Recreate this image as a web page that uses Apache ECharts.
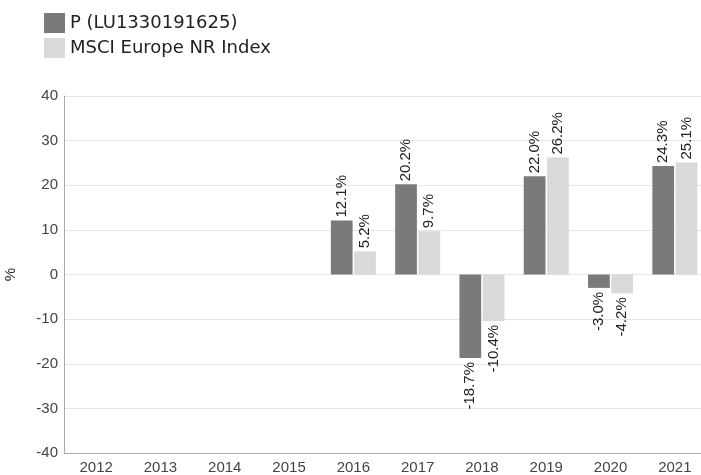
<!DOCTYPE html>
<html><head><meta charset="utf-8">
<script src="https://cdn.jsdelivr.net/npm/echarts@6/dist/echarts.min.js"></script>
<style>html,body{margin:0;padding:0;background:#fff}#c{width:701px;height:475px}</style>
</head><body><div id="c"></div>
<script>
const years = ['2012','2013','2014','2015','2016','2017','2018','2019','2020','2021'];
const fundValues = [null,null,null,null,12.1,20.2,-18.7,22.0,-3.0,24.3];
const indexValues = [null,null,null,null,5.2,9.7,-10.4,26.2,-4.2,25.1];
const seriesNames = ['P (LU1330191625)','MSCI Europe NR Index'];
const yTicks = {min:-40,max:40,interval:10};

function mk(vals){
  return vals.map(v => v === null ? null : {
    value: v,
    label: v >= 0 ? {position:'top', align:'left', verticalAlign:'middle', rotate:90, distance:3}
                  : {position:'bottom', align:'right', verticalAlign:'middle', rotate:90, distance:4}
  });
}
const labelBase = {show:true, fontFamily:'Liberation Sans, Arial, sans-serif', fontSize:15, color:'#222',
  formatter: p => p.value.toFixed(1) + '%'};

const chart = echarts.init(document.getElementById('c'), null, {renderer:'canvas'});
chart.setOption({
  animation:false,
  legend:{orient:'vertical', left:39, top:8, itemWidth:21, itemHeight:20, itemGap:5,
    icon:'rect', textStyle:{fontFamily:'DejaVu Sans', fontSize:18, color:'#222'},
    data:seriesNames},
  grid:{left:64, top:96, width:643, height:357, containLabel:false, outerBoundsMode:'none'},
  xAxis:{type:'category', data:years,
    axisLine:{onZero:false, lineStyle:{color:'#aaa'}}, axisTick:{show:false},
    axisLabel:{fontFamily:'Liberation Sans, Arial, sans-serif', fontSize:15, color:'#444', margin:7}},
  yAxis:{type:'value', min:yTicks.min, max:yTicks.max, interval:yTicks.interval,
    name:'%', nameLocation:'middle', nameGap:46, nameRotate:90,
    nameTextStyle:{fontFamily:'Liberation Sans, Arial, sans-serif', fontSize:15, color:'#222'},
    axisLine:{show:true, lineStyle:{color:'#aaa'}}, axisTick:{show:false},
    splitLine:{lineStyle:{color:'#e6e6e6'}},
    axisLabel:{fontFamily:'Liberation Sans, Arial, sans-serif', fontSize:15, color:'#444', margin:6}},
  series:[
    {name:seriesNames[0], type:'bar', data:mk(fundValues), itemStyle:{color:'#7a7a7a'},
      barGap:'7%', barCategoryGap:'30%', label:labelBase},
    {name:seriesNames[1], type:'bar', data:mk(indexValues), itemStyle:{color:'#d9d9d9'},
      label:labelBase}
  ]
});
</script></body></html>
